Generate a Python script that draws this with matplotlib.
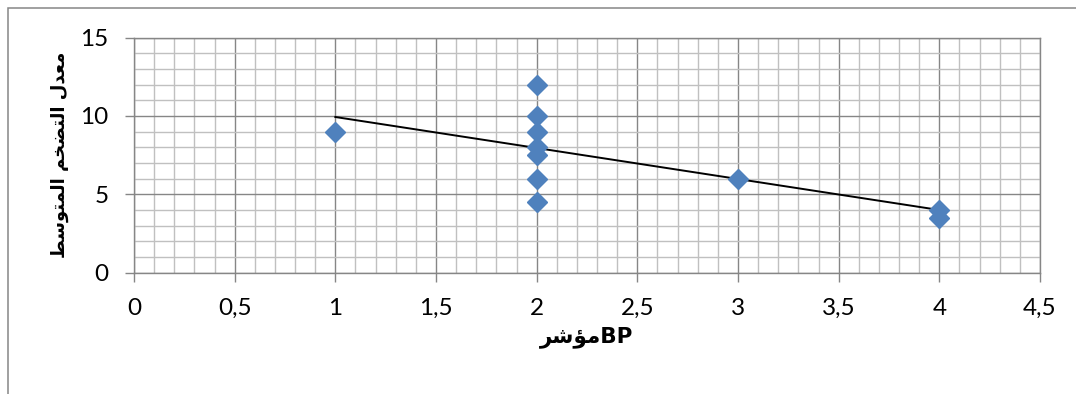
import numpy as np
import matplotlib
matplotlib.use("Agg")
import matplotlib.pyplot as plt
from matplotlib.ticker import MultipleLocator, FuncFormatter
from matplotlib.patches import Rectangle

# BP index vs. average inflation rate
bp_index = [1, 2, 2, 2, 2, 2, 2, 2, 3, 4, 4]
inflation = [9, 12, 10, 9, 8, 7.5, 6, 4.5, 6, 4, 3.5]

x_ticks = [0, 0.5, 1, 1.5, 2, 2.5, 3, 3.5, 4, 4.5]
y_ticks = [0, 5, 10, 15]

# Arabic labels written in presentation forms (visual order) so they render joined
y_label = ("\uFEC2\uFEB3\uFEEE\uFE98\uFEE4\uFEDF\uFE8D"   # المتوسط
           " \uFEE2\uFEA8\uFEC0\uFE98\uFEDF\uFE8D"        # التضخم
           " \uFEDD\uFEAA\uFECC\uFEE3")                  # معدل
x_label = "\uFEAE\uFEB7\uFE86\uFEE3" + "BP"             # مؤشرBP

W, H = 1076, 394
fig = plt.figure(figsize=(W / 100, H / 100), dpi=100)
fig.patch.set_facecolor("white")

# chart-area frame (left and top edges)
fig.patches.append(Rectangle((8 / W, -0.2), 1.2, (H - 8) / H + 0.2,
                             transform=fig.transFigure, fill=False,
                             edgecolor="#868686", linewidth=1.1))

ax = fig.add_axes([134 / W, 121.5 / H, (1040 - 134) / W, (356.5 - 121.5) / H])

major_c = "#868686"
minor_c = "#c0c0c0"

ax.set_xlim(0, 4.5)
ax.set_ylim(0, 15)
ax.set_xticks(x_ticks)
ax.set_yticks(y_ticks)
ax.xaxis.set_minor_locator(MultipleLocator(0.1))
ax.yaxis.set_minor_locator(MultipleLocator(1))
ax.xaxis.set_major_formatter(FuncFormatter(lambda v, p: f"{v:g}".replace(".", ",")))
ax.yaxis.set_major_formatter(FuncFormatter(lambda v, p: f"{v:g}"))

ax.grid(which="minor", color=minor_c, linewidth=1.0, zorder=0)
ax.grid(which="major", color=major_c, linewidth=1.0, zorder=0.5)
ax.set_axisbelow(True)

for s in ax.spines.values():
    s.set_color(major_c)
    s.set_linewidth(1.0)

ax.tick_params(which="major", direction="out", length=6.5, width=1.0,
               color=major_c, labelsize=17.5, labelcolor="black")
ax.tick_params(axis="x", which="major", pad=12)
ax.tick_params(axis="y", which="major", pad=12)
ax.tick_params(which="minor", length=0)
for lab in ax.get_xticklabels() + ax.get_yticklabels():
    lab.set_fontfamily(["Lato", "DejaVu Sans"])

# linear trend line over the data range
coef = np.polyfit(bp_index, inflation, 1)
xt = np.array([min(bp_index), max(bp_index)])
ax.plot(xt, np.polyval(coef, xt), color="black", linewidth=1.4, zorder=2)

ax.plot(bp_index, inflation, linestyle="none", marker="D", markersize=10.5,
        markerfacecolor="#4F81BD", markeredgecolor="#4F81BD", zorder=3,
        clip_on=False)

ax.set_xlabel(x_label, fontsize=15.5, fontweight="bold",
              family=["DejaVu Sans"], labelpad=5)
ax.set_ylabel(y_label, fontsize=13, fontweight="bold",
              family=["DejaVu Sans"], labelpad=8)

fig.savefig("out.png", dpi=100, facecolor="white")
